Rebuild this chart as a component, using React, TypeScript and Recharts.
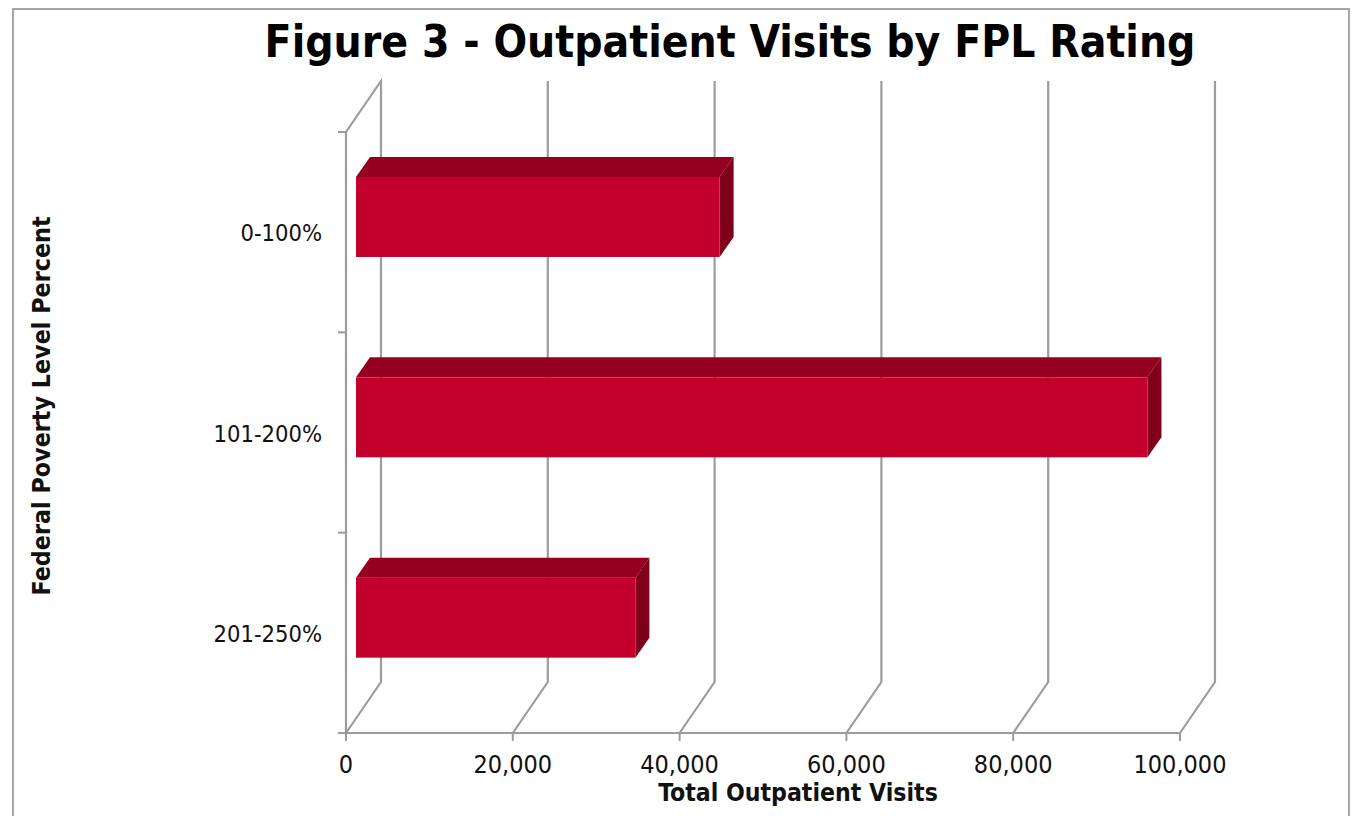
import { BarChart, Bar, XAxis, YAxis, CartesianGrid, Label } from 'recharts';

const CATEGORIES = ['0-100%', '101-200%', '201-250%'];
const VISITS = [43600, 94900, 33500];
const X_TICKS = [0, 20000, 40000, 60000, 80000, 100000];

const data = CATEGORIES.map((band, i) => ({ band, visits: VISITS[i] }));

const WIDTH = 1353;
const HEIGHT = 816;
const PLOT_TOP = 132;
const PLOT_HEIGHT = 601;
const BAND = PLOT_HEIGHT / CATEGORIES.length;
const GREY = '#9c9c9c';
const TICK_FONT = '"DejaVu Sans Condensed", "DejaVu Sans", sans-serif';

// depth of the fake 3D box for the walls, and for each bar
const WALL_DX = 35;
const WALL_DY = 51;
const BAR_DX = 14;
const BAR_DY = 20;

function WallLine(props: any) {
  const { x1, y1, y2, index } = props;
  const bx = x1 + WALL_DX;
  let points = `${x1},${y2} ${bx},${y2 - WALL_DY} ${bx},${y1 - WALL_DY}`;
  if (index === 0) points += ` ${x1},${y1} ${x1},${y2}`;
  return <polyline key={props.key} points={points} fill="none" stroke={GREY} strokeWidth={2.2} />;
}

function Box(props: any) {
  const { x, y, width, height } = props;
  const fx = x + 10;
  const fy = y - 15;
  const r = fx + width;
  const b = fy + height;
  return (
    <g>
      <polygon
        points={`${fx},${fy} ${fx + BAR_DX},${fy - BAR_DY} ${r + BAR_DX},${fy - BAR_DY} ${r},${fy}`}
        fill="#950020"
      />
      <polygon
        points={`${r},${fy} ${r + BAR_DX},${fy - BAR_DY} ${r + BAR_DX},${b - BAR_DY} ${r},${b}`}
        fill="#7e001b"
      />
      <rect x={fx} y={fy} width={width} height={height} fill="#c3002b" />
    </g>
  );
}

// Excel puts category ticks on the band edges, not the centres
function BandTick(props: any) {
  const { x, y, payload, index } = props;
  const axisX = x + 8;
  return (
    <g>
      <line x1={axisX - 8} x2={axisX} y1={y - BAND / 2} y2={y - BAND / 2} stroke={GREY} strokeWidth={2} />
      {index === CATEGORIES.length - 1 && (
        <line x1={axisX - 8} x2={axisX} y1={y + BAND / 2} y2={y + BAND / 2} stroke={GREY} strokeWidth={2} />
      )}
      <text x={x - 16} y={y + 9} textAnchor="end" fontSize={23.5} fontFamily={TICK_FONT} fill="#111">
        {payload.value}
      </text>
    </g>
  );
}

export default function App() {
  return (
    <div style={{ position: 'absolute', left: 0, top: 0, width: WIDTH, height: HEIGHT, overflow: 'hidden', background: '#fff' }}>
      <div
        style={{
          position: 'absolute',
          left: 12,
          top: 8,
          width: 1334,
          height: 820,
          border: '2px solid #a6a6a6',
        }}
      />
      <div style={{ position: 'absolute', left: 0, top: 0 }}>
        <BarChart
          width={WIDTH}
          height={HEIGHT}
          data={data}
          layout="vertical"
          barSize={80}
          margin={{ top: PLOT_TOP, right: 173, bottom: 43, left: 246 }}
        >
          <text
            x={730}
            y={57}
            textAnchor="middle"
            fontSize={44}
            fontWeight="bold"
            fontFamily={TICK_FONT}
            fill="#000"
          >
            Figure 3 - Outpatient Visits by FPL Rating
          </text>
          <CartesianGrid horizontal={false} vertical={WallLine} />
          <XAxis
            type="number"
            domain={[0, 100000]}
            ticks={X_TICKS}
            tickFormatter={(v: number) => v.toLocaleString('en-US')}
            height={40}
            tickSize={8}
            tickMargin={14}
            interval={0}
            axisLine={{ stroke: GREY, strokeWidth: 2 }}
            tickLine={{ stroke: GREY, strokeWidth: 2 }}
            tick={{ fontSize: 25, fontFamily: TICK_FONT, fill: '#111' }}
          >
            <Label
              value="Total Outpatient Visits"
              position="bottom"
              offset={-6}
              dx={35}
              dy={17}
              fontSize={24.6}
              fontWeight="bold"
              fontFamily={TICK_FONT}
              fill="#111"
            />
          </XAxis>
          <YAxis
            type="category"
            dataKey="band"
            width={100}
            interval={0}
            tickLine={false}
            axisLine={{ stroke: GREY, strokeWidth: 2 }}
            tick={BandTick}
          >
            <Label
              value="Federal Poverty Level Percent"
              angle={-90}
              position="insideLeft"
              dx={-210}
              dy={163}
              fontSize={24.8}
              fontWeight="bold"
              fontFamily={TICK_FONT}
              fill="#111"
            />
          </YAxis>
          <Bar dataKey="visits" shape={Box} isAnimationActive={false} />
        </BarChart>
      </div>
    </div>
  );
}
